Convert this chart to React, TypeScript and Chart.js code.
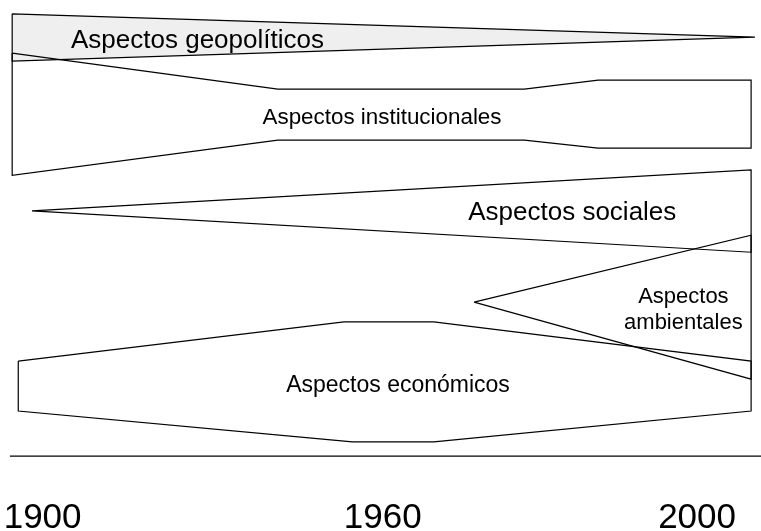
import React, { useEffect, useRef } from "react";
import { Chart, registerables } from "chart.js";

Chart.register(...registerables);

// Diagram coordinate system: x 0..100 (left → right), y 0..100 (bottom → top)
const geopoliticos = [
  { x: 1.6, y: 97.4 }, { x: 99.2, y: 93.0 }, { x: 1.6, y: 88.5 }, { x: 1.6, y: 97.4 },
];
const institucionales = [
  { x: 1.6, y: 90.0 }, { x: 36.5, y: 83.2 }, { x: 68.9, y: 83.2 }, { x: 78.6, y: 84.9 },
  { x: 98.7, y: 84.9 }, { x: 98.7, y: 72.1 }, { x: 78.6, y: 72.1 }, { x: 68.9, y: 73.6 },
  { x: 36.5, y: 73.6 }, { x: 1.6, y: 67.0 }, { x: 1.6, y: 90.0 },
];
const sociales = [
  { x: 4.2, y: 60.3 }, { x: 98.7, y: 68.0 }, { x: 98.7, y: 52.5 }, { x: 4.2, y: 60.3 },
];
const ambientales = [
  { x: 62.3, y: 43.1 }, { x: 98.7, y: 55.7 }, { x: 98.7, y: 28.6 }, { x: 62.3, y: 43.1 },
];
const economicos = [
  { x: 2.4, y: 32.0 }, { x: 45.2, y: 39.4 }, { x: 57.0, y: 39.4 }, { x: 98.7, y: 32.0 },
  { x: 98.7, y: 22.6 }, { x: 57.0, y: 16.8 }, { x: 46.3, y: 16.8 }, { x: 2.4, y: 22.6 },
  { x: 2.4, y: 32.0 },
];
const ejeTiempo = [{ x: 1.3, y: 14.1 }, { x: 100, y: 14.1 }];

const areaLabels = [
  ["Aspectos geopolíticos"],
  ["Aspectos institucionales"],
  ["Aspectos sociales"],
  ["Aspectos", "ambientales"],
  ["Aspectos económicos"],
];
const areaLabelAnchors = [
  { x: 25.95, y: 90.96 },
  { x: 50.2, y: 76.65 },
  { x: 75.2, y: 58.57 },
  { x: 89.8, y: 42.94 },
  { x: 52.3, y: 26.18 },
];
const areaLabelSizes = [26, 22.4, 26, 22, 23];

const yearLabels = ["1900", "1960", "2000"];
const yearPositions = [5.6, 50.3, 91.6];
const yearBaseline = 0.56;

const FONT = '"Liberation Sans", Arial, Helvetica, sans-serif';

const labelPlugin = {
  id: "diagramLabels",
  afterDatasetsDraw(chart: any) {
    const { ctx, scales } = chart;
    const xs = scales.x;
    const ys = scales.y;
    ctx.save();
    ctx.fillStyle = "#000";
    ctx.textAlign = "center";
    ctx.textBaseline = "alphabetic";
    areaLabels.forEach((lines, i) => {
      const size = areaLabelSizes[i];
      ctx.font = `${size}px ${FONT}`;
      const px = xs.getPixelForValue(areaLabelAnchors[i].x);
      const py = ys.getPixelForValue(areaLabelAnchors[i].y);
      lines.forEach((t, j) => {
        ctx.fillText(t, px, py + j * size * 1.18);
      });
    });
    ctx.font = `35px ${FONT}`;
    yearLabels.forEach((t, i) => {
      ctx.fillText(t, xs.getPixelForValue(yearPositions[i]), ys.getPixelForValue(yearBaseline));
    });
    ctx.restore();
  },
};

function outline(data: any[], extra: any = {}) {
  return {
    data,
    showLine: true,
    borderColor: "#000",
    borderWidth: 1.2,
    pointRadius: 0,
    pointHoverRadius: 0,
    tension: 0,
    fill: false,
    order: 0,
    ...extra,
  };
}

export default function App() {
  const ref = useRef<HTMLCanvasElement>(null);
  useEffect(() => {
    if (!ref.current) return;
    const chart = new Chart(ref.current, {
      type: "scatter",
      data: {
        datasets: [
          outline(geopoliticos, { fill: "shape", backgroundColor: "#efefef", order: 10 }),
          outline(institucionales),
          outline(sociales),
          outline(ambientales),
          outline(economicos),
          outline(ejeTiempo),
        ] as any,
      },
      options: {
        animation: false,
        responsive: false,
        devicePixelRatio: 1,
        layout: { padding: 0 },
        plugins: { legend: { display: false }, tooltip: { enabled: false } },
        events: [],
        scales: {
          x: { type: "linear", min: 0, max: 100, display: false },
          y: { type: "linear", min: 0, max: 100, display: false },
        },
      },
      plugins: [labelPlugin],
    });
    return () => chart.destroy();
  }, []);
  return (
    <div style={{ position: "absolute", left: 0, top: 0, width: 761, height: 531, background: "#fff" }}>
      <canvas ref={ref} width={761} height={531} />
    </div>
  );
}
